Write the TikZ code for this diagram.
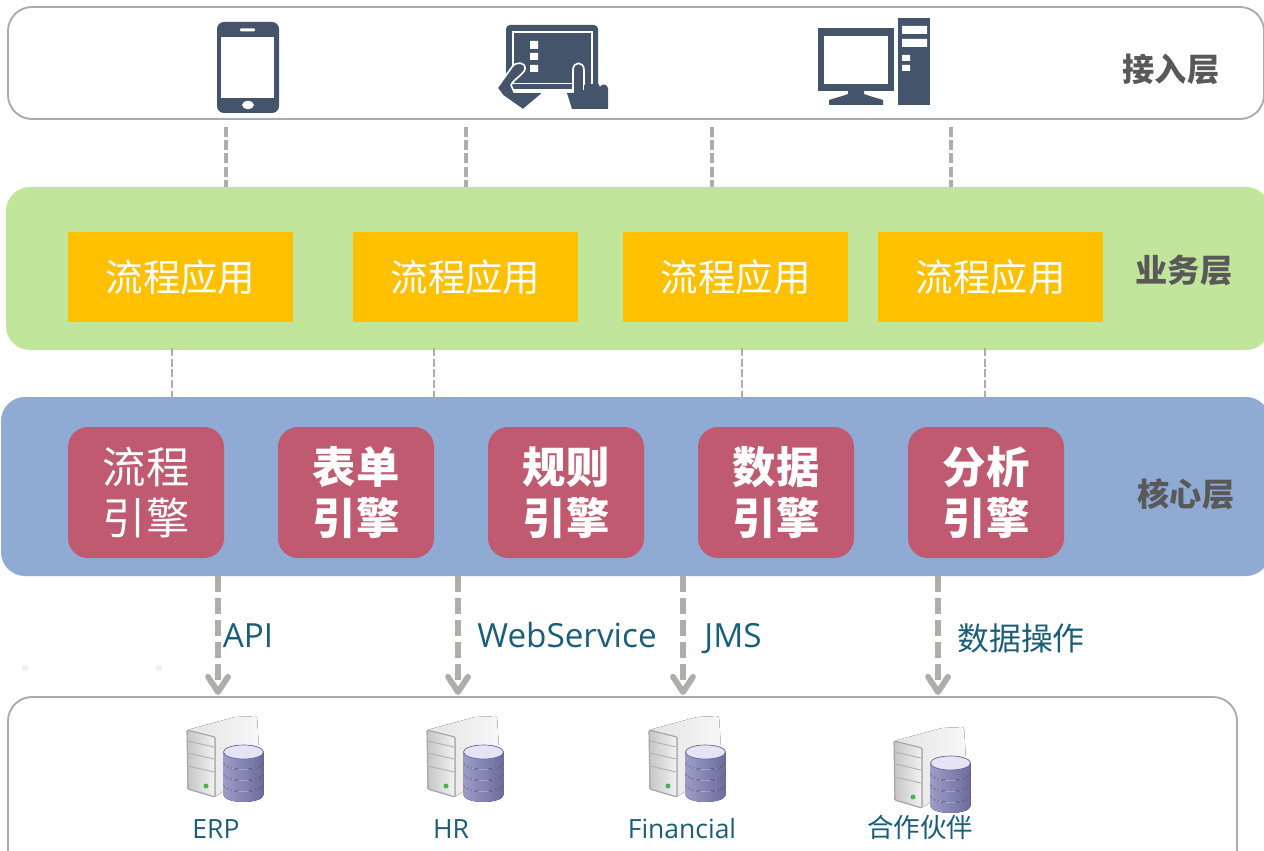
\documentclass[tikz,border=0pt]{standalone}
\usepackage{fontspec}
\setmainfont{Open Sans}
\newfontfamily\cjk{Noto Sans CJK SC}
\usetikzlibrary{arrows.meta,fit}
\definecolor{IconBlue}{HTML}{44546A}
\definecolor{LayerGreen}{HTML}{C2E59C}
\definecolor{LayerBlue}{HTML}{8FAAD3}
\definecolor{AppOrange}{HTML}{FFC000}
\definecolor{EnginePink}{HTML}{C05A70}
\definecolor{LinkGray}{HTML}{AFACAC}
\definecolor{BorderGray}{HTML}{ABABAB}
\definecolor{LabelTeal}{HTML}{1B5E78}
\definecolor{TitleGray}{HTML}{595959}
\definecolor{DotGray}{HTML}{F0F0F0}
\definecolor{DiskLight}{HTML}{E4E4F4}
\definecolor{DiskMid}{HTML}{9C9CC8}
\definecolor{DiskDark}{HTML}{6C6C9C}
\tikzset{
	layerbox/.style={inner sep=0pt,rounded corners=24*0.03cm},
	appbox/.style={fill=AppOrange,text=white,minimum width=225*0.03cm,minimum height=90*0.03cm,font=\cjk\fontsize{32}{38}\selectfont},
	enginebox/.style={fill=EnginePink,text=white,rounded corners=20*0.03cm,minimum width=156*0.03cm,minimum height=131*0.03cm,align=center,font=\cjk\fontsize{37}{43.5}\selectfont},
	boldengine/.style={enginebox,font=\cjk\bfseries\fontsize{37}{43.5}\selectfont},
	layertitle/.style={text=TitleGray,font=\cjk\bfseries\fontsize{27.5}{32}\selectfont},
	linklabel/.style={text=LabelTeal,anchor=base,font=\fontsize{28.4}{34}\selectfont},
	systemlabel/.style={text=LabelTeal,anchor=base,font=\fontsize{22.6}{26}\selectfont},
	toplink/.style={draw=LinkGray,line width=2.7pt,dash pattern=on 8.5pt off 2.8pt},
	midlink/.style={draw=LinkGray,line width=2.3pt,dash pattern=on 6.8pt off 2.3pt},
	lowlink/.style={draw=LinkGray,line width=5pt,dash pattern=on 14pt off 4.7pt,-{Straight Barb[round,length=13pt,width=17pt,line width=5pt]}},
	% server with a stack of disks, origin at the upper left corner
	serverdb/.pic={
		\fill[left color=gray!22,right color=gray!6,rounded corners=2pt] (2,14) -- (50,1) -- (72,0) -- (75,50) -- (30,81) -- (2,73) -- cycle;
		\fill[left color=gray!45,right color=gray!10,draw=gray!70,line width=1pt,rounded corners=1pt] (2,14) -- (30,21) -- (30,81) -- (3,73) -- cycle;
		\draw[gray!60,line width=0.8pt] (3,25) -- (29,31) (3,37) -- (29,43) (3,50) -- (29,56);
		\fill[green!40!gray] (21,70) circle (2.5);
		\foreach \d in {69,58,47,36}{
			\fill[left color=DiskMid,middle color=DiskLight,right color=DiskDark] (38.5,\d+10) arc[start angle=180,end angle=0,x radius=20,y radius=7] -- (78.5,\d) -- (38.5,\d) -- cycle;
			\fill[left color=DiskMid!70,middle color=DiskLight,right color=DiskDark!80] (58.5,\d) ellipse[x radius=20,y radius=7];
		}
		\fill[DiskLight,draw=DiskDark,line width=0.6pt] (58.5,36) ellipse[x radius=20,y radius=7];
	}
}

\begin{document}
\begin{tikzpicture}[x=0.03cm,y=-0.03cm]
		% page
		\clip (0,0) rectangle (1264,851);
		\fill[white] (0,0) rectangle (1264,851);
		\fill[DotGray] (25,668) circle (3.5) (159,668) circle (3.5);

		% layers
		\node[layerbox,draw=BorderGray,line width=1.6pt,fit={(8,7) (1264,119)}] (access) {};
		\node[layerbox,fill=LayerGreen,fit={(6,187) (1270,350)}] (business) {};
		\node[layerbox,fill=LayerBlue,fit={(1,397) (1270,576)}] (core) {};
		\node[layerbox,draw=BorderGray,line width=1.6pt,fit={(8,697) (1237,880)}] (system) {};

		\node[layertitle] (accesstitle) at (1171,69) {接入层};
		\node[layertitle] (businesstitle) at (1184,270) {业务层};
		\node[layertitle] (coretitle) at (1186,494) {核心层};

		% applications
		\node[appbox] (appa) at (180.5,277) {流程应用};
		\node[appbox] (appb) at (465.5,277) {流程应用};
		\node[appbox] (appc) at (735.5,277) {流程应用};
		\node[appbox] (appd) at (990.5,277) {流程应用};

		% engines
		\node[enginebox] (enginea) at (146,492.5) {流程\\引擎};
		\node[boldengine] (engineb) at (356,492.5) {表单\\引擎};
		\node[boldengine] (enginec) at (566,492.5) {规则\\引擎};
		\node[boldengine] (engined) at (776,492.5) {数据\\引擎};
		\node[boldengine] (enginee) at (986,492.5) {分析\\引擎};

		% connectors between the layers
		\foreach \i/\x in {1/226,2/466,3/712,4/951}{
			\coordinate (topfrom\i) at (\x,127);
			\coordinate (topto\i) at (\x,187);
			\draw[toplink] (topfrom\i) -- (topto\i);
		}
		\foreach \i/\x in {1/172,2/434,3/742,4/985}{
			\coordinate (midfrom\i) at (\x,348);
			\coordinate (midto\i) at (\x,399);
			\draw[midlink] (midfrom\i) -- (midto\i);
		}
		\foreach \i/\x in {1/218,2/458,3/683,4/938}{
			\coordinate (lowfrom\i) at (\x,576);
			\coordinate (lowto\i) at (\x,695);
			\draw[lowlink] (lowfrom\i) -- (lowto\i);
		}

		\node[linklabel] (api) at (248,647) {API};
		\node[linklabel] (webservice) at (567,647) {WebService};
		\node[linklabel] (jms) at (733,647) {JMS};
		\node[text=LabelTeal,font=\cjk\fontsize{27.2}{32}\selectfont] (dataop) at (1021,638) {数据操作};

		% phone
		\fill[IconBlue,rounded corners=7*0.03cm] (217,22) rectangle (279,113);
		\fill[white] (221,37) rectangle (274,98);
		\fill[white,rounded corners=1*0.03cm] (240,28.5) rectangle (255,31.5);
		\fill[white] (248,105) ellipse[x radius=6,y radius=4];

		% tablet
		\fill[IconBlue,rounded corners=4*0.03cm] (506,25) rectangle (598,89);
		\draw[white,line width=1.1pt] (513,32) rectangle (592,83.5);
		\fill[white] (530,41) rectangle (538,49) (530,53) rectangle (538,60) (530,65) rectangle (538,72);
		\fill[IconBlue,draw=white,line width=1.4pt,line join=round] (497,88) -- (512,67) .. controls (516,61) and (526,62) .. (525,69) .. controls (524,74) and (513,80) .. (511,85) -- (514,92) -- (542,92) -- (542,94) -- (523,110) -- (503,96) -- cycle;
		\fill[IconBlue,draw=white,line width=1.4pt,line join=round] (570,100) -- (573,92) -- (573,70) .. controls (573,61) and (584,61) .. (584,70) -- (584,100) -- cycle;
		\fill[IconBlue] (567,93) -- (574,93) -- (584,90) -- (584,86) .. controls (586,80) and (590,80) .. (592,86) .. controls (594,81) and (598,81) .. (600,87) .. controls (602,83) and (607,84) .. (608,88) -- (608,109) -- (572,109) -- cycle;

		% desktop
		\fill[IconBlue] (818,28) rectangle (894,91);
		\fill[white] (824,36) rectangle (888,84);
		\fill[IconBlue] (848,90) -- (848,94) .. controls (840,97) and (835,98) .. (829,100) -- (829,105) -- (883,105) -- (883,100) .. controls (877,98) and (872,97) .. (864,94) -- (864,90) -- cycle;
		\fill[IconBlue] (898,18) rectangle (930,105);
		\fill[white] (902,26) rectangle (927,34) (902,39) rectangle (927,47) (902,55) rectangle (910,61) (902,65) rectangle (910,71);

		% systems
		\pic at (185,716) {serverdb};
		\pic at (425,716) {serverdb};
		\pic at (647,716) {serverdb};
		\pic at (892,727) {serverdb};

		\node[systemlabel] (erp) at (216,838) {ERP};
		\node[systemlabel] (hr) at (451,838) {HR};
		\node[systemlabel] (financial) at (682,838) {Financial};
		\node[text=LabelTeal,font=\cjk\fontsize{22.6}{26}\selectfont] (partner) at (920,827) {合作伙伴};
	\end{tikzpicture}
\end{document}
